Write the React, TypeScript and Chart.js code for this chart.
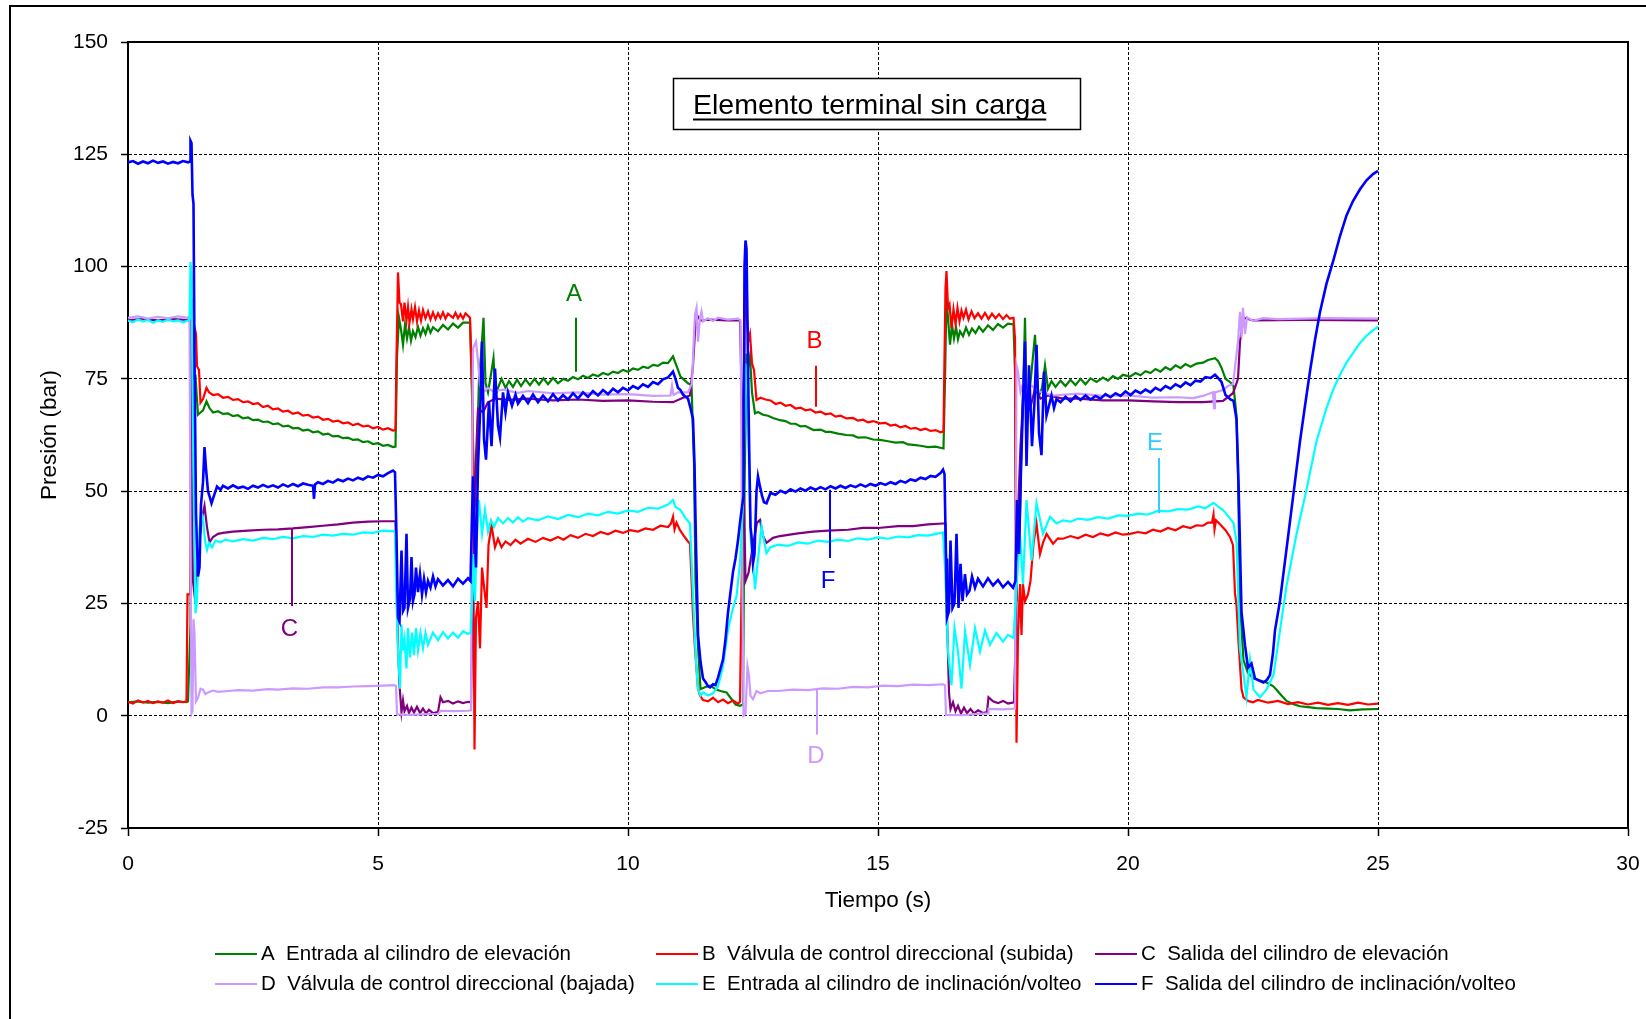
import { useEffect, useRef } from 'react';
import { Chart, registerables } from 'chart.js';

Chart.register(...registerables);

const FAMILIA = '"Liberation Sans", Arial, Helvetica, sans-serif';

// ---------- Datos: [tiempo (s), presión (bar)] ----------
const serieA: number[][] = [
  [0, 3.0], [0.2, 3.2], [0.4, 2.9], [0.6, 3.1], [0.8, 2.8], [1.0, 3.2], [1.17, 3.0], [1.2, 3.2], [1.25, 20], [1.27, 85], [1.3, 75], [1.35, 75.5], [1.4, 67], [1.45, 67.5], [1.5, 68], [1.57, 70], [1.63, 68.5], [1.7, 67.5], [1.8, 67.8], [1.9, 67.2], [2.0, 67.3], [2.1, 66.7], [2.2, 66.9], [2.3, 66.2], [2.4, 66.4], [2.5, 65.8], [2.6, 65.9], [2.7, 65.4], [2.8, 65.5], [2.9, 64.9], [3.0, 65.1], [3.1, 64.4], [3.2, 64.6], [3.3, 64.0], [3.4, 64.1], [3.5, 63.5], [3.6, 63.7], [3.7, 63.1], [3.8, 63.3], [3.9, 62.6], [4.0, 62.8], [4.1, 62.2], [4.2, 62.3], [4.3, 61.8], [4.4, 61.9], [4.5, 61.4], [4.6, 61.5], [4.7, 60.9], [4.8, 61.1], [4.9, 60.5], [5.0, 60.7], [5.1, 60.1], [5.2, 60.3], [5.3, 59.8], [5.35, 59.9],
  [5.38, 80], [5.42, 88.6], [5.46, 86], [5.5, 82.6], [5.54, 87], [5.58, 84], [5.62, 86.5], [5.66, 83.5], [5.7, 85.6], [5.75, 84.3], [5.8, 86.6], [5.85, 84.6], [5.9, 86.3], [5.95, 85], [6.0, 86.8], [6.05, 85.3], [6.1, 86.5], [6.2, 85.6], [6.3, 87], [6.4, 86], [6.5, 87.3], [6.6, 86.4], [6.7, 87.5], [6.84, 87.5],
  [6.88, 71.3], [6.93, 46.5], [6.97, 55], [7.02, 75], [7.06, 80], [7.11, 88.6], [7.15, 74], [7.2, 72], [7.26, 76], [7.31, 79.6], [7.35, 71.3], [7.4, 73], [7.47, 75], [7.55, 73], [7.62, 74.5], [7.7, 73.2], [7.78, 74.8], [7.86, 73.4], [7.95, 74.9], [8.04, 73.6], [8.13, 75.0], [8.22, 73.7], [8.31, 75.1], [8.4, 73.8], [8.5, 75.2], [8.6, 74.0], [8.71, 75.0], [8.8, 74.6], [8.9, 75.4], [9.0, 74.9], [9.1, 75.7], [9.2, 75.2], [9.3, 76.0], [9.4, 75.6], [9.5, 76.3], [9.6, 75.9], [9.7, 76.6], [9.8, 76.3], [9.9, 77.0], [10.0, 76.6], [10.1, 77.3], [10.2, 77.0], [10.3, 77.7], [10.4, 77.4], [10.5, 78.1], [10.6, 77.9], [10.7, 78.6], [10.8, 78.5], [10.9, 80.0], [10.95, 78.5], [11.0, 77], [11.05, 75.5], [11.1, 75], [11.2, 74], [11.27, 73.6],
  [11.32, 56.3], [11.35, 30], [11.4, 15.5], [11.45, 5.9], [11.55, 6.4], [11.65, 6.7], [11.75, 5.9], [11.85, 5.5], [11.97, 5.2], [12.05, 4], [12.15, 2.5], [12.24, 2.2], [12.3, 2.5],
  [12.33, 50], [12.37, 80.6], [12.41, 78], [12.44, 80], [12.48, 72], [12.54, 67.3], [12.6, 67.6], [12.7, 67.0], [12.8, 66.8], [12.9, 66.3], [13.04, 65.8], [13.15, 65.6], [13.25, 65.0], [13.35, 65.0], [13.45, 64.4], [13.55, 64.5], [13.71, 63.6], [13.85, 63.7], [13.95, 63.2], [14.05, 63.2], [14.2, 62.8], [14.37, 62.5], [14.5, 62.4], [14.6, 61.9], [14.75, 62.0], [14.9, 61.5], [15.04, 61.4], [15.2, 61.1], [15.35, 60.8], [15.5, 60.9], [15.6, 60.4], [15.71, 60.3], [15.85, 60.1], [16.0, 59.8], [16.15, 59.9], [16.31, 59.5],
  [16.34, 75], [16.37, 93], [16.4, 88.6], [16.44, 82.6], [16.48, 87], [16.52, 84], [16.56, 86.5], [16.6, 83.8], [16.64, 85.6], [16.7, 84.5], [16.76, 86.4], [16.82, 84.8], [16.88, 86.2], [16.95, 85.2], [17.02, 86.6], [17.1, 85.5], [17.2, 86.9], [17.3, 85.9], [17.4, 87.2], [17.5, 86.4], [17.6, 87.3], [17.71, 87.1],
  [17.74, 76.6], [17.77, 25.5], [17.8, 48], [17.83, 40], [17.87, 60], [17.91, 75], [17.94, 88.6], [17.97, 70.6], [18.03, 72], [18.1, 80], [18.14, 84.8], [18.2, 70.6], [18.28, 73], [18.34, 78], [18.4, 72.8], [18.47, 74.5], [18.55, 73.2], [18.65, 74.6], [18.75, 73.4], [18.85, 74.8], [18.95, 73.6], [19.05, 75.0], [19.15, 73.8], [19.25, 75.1], [19.37, 74.3], [19.5, 75.3], [19.6, 74.6], [19.7, 75.6], [19.8, 75.0], [19.9, 75.9], [20.04, 75.5], [20.15, 76.3], [20.25, 75.8], [20.35, 76.7], [20.45, 76.3], [20.55, 77.2], [20.65, 76.6], [20.75, 77.6], [20.85, 77.0], [20.95, 78.0], [21.05, 77.4], [21.15, 78.3], [21.25, 77.7], [21.37, 78.4], [21.5, 78.6], [21.6, 79.2], [21.74, 79.6], [21.8, 79.0], [21.87, 77.5], [21.95, 75], [22.05, 74.2], [22.11, 73.4],
  [22.17, 66.8], [22.2, 53.6], [22.24, 25.2], [22.31, 12.4], [22.4, 9.5], [22.51, 8.3], [22.6, 8.0], [22.77, 7.4], [22.9, 6.6], [22.97, 5.8], [23.07, 4.5], [23.17, 3.3], [23.3, 2.6], [23.44, 2.1], [23.6, 1.9], [23.77, 1.7], [24.0, 1.6], [24.2, 1.5], [24.44, 1.2], [24.7, 1.4], [25.0, 1.5],
];

const serieB: number[][] = [
  [0, 3.1], [0.1, 2.7], [0.2, 3.4], [0.3, 2.9], [0.4, 3.3], [0.5, 2.8], [0.6, 3.2], [0.7, 2.9], [0.8, 3.4], [0.9, 2.8], [1.0, 3.2], [1.1, 3.0], [1.17, 3.2], [1.19, 27], [1.25, 27], [1.27, 93], [1.29, 80], [1.32, 87], [1.36, 85], [1.38, 77.8], [1.42, 77], [1.45, 69.7], [1.5, 70.5], [1.57, 73], [1.62, 72], [1.7, 71.4], [1.8, 71.6], [1.9, 70.8], [2.0, 71.0], [2.1, 70.3], [2.2, 70.5], [2.3, 69.8], [2.4, 70.0], [2.5, 69.4], [2.6, 69.6], [2.7, 68.7], [2.8, 69.0], [2.9, 68.2], [3.0, 68.4], [3.1, 67.7], [3.2, 67.9], [3.3, 67.2], [3.4, 67.5], [3.5, 66.8], [3.6, 67.0], [3.7, 66.4], [3.8, 66.6], [3.9, 65.9], [4.0, 66.1], [4.1, 65.5], [4.2, 65.7], [4.3, 65.1], [4.4, 65.3], [4.5, 64.7], [4.6, 65.0], [4.7, 64.4], [4.8, 64.6], [4.9, 64.0], [5.0, 64.3], [5.1, 63.7], [5.2, 64.0], [5.3, 63.5], [5.35, 63.6],
  [5.37, 80], [5.4, 98.7], [5.43, 92], [5.46, 91.6], [5.5, 87.8], [5.53, 92], [5.57, 88], [5.6, 91], [5.63, 87.5], [5.67, 90.5], [5.7, 88.3], [5.74, 91], [5.78, 87.8], [5.82, 90.2], [5.86, 88], [5.9, 90.3], [5.95, 88.5], [6.0, 90], [6.05, 88.2], [6.1, 89.8], [6.15, 88.3], [6.2, 89.6], [6.25, 88.5], [6.3, 89.8], [6.35, 88.4], [6.4, 89.5], [6.5, 88.6], [6.55, 89.7], [6.6, 88.5], [6.65, 89.4], [6.7, 88.4], [6.75, 89.6], [6.84, 88.6],
  [6.89, 71], [6.91, 30], [6.93, -7.5], [6.96, 21.8], [7.0, 25.5], [7.04, 15], [7.08, 33], [7.13, 27.8], [7.17, 24], [7.21, 38], [7.27, 42.4], [7.34, 37.5], [7.4, 39.4], [7.47, 37.5], [7.55, 38.8], [7.65, 38], [7.75, 39.2], [7.85, 38.3], [8.0, 39.4], [8.15, 38.7], [8.3, 39.6], [8.45, 39], [8.6, 39.8], [8.71, 39.2], [8.85, 40.2], [9.0, 39.6], [9.15, 40.5], [9.3, 40.0], [9.45, 40.9], [9.6, 40.4], [9.75, 41.2], [9.9, 40.7], [10.04, 41.3], [10.2, 41.0], [10.35, 41.7], [10.5, 41.4], [10.65, 42.3], [10.8, 42.0], [10.86, 42.8], [10.9, 44.3], [10.93, 41.5], [10.97, 43], [11.04, 41.3], [11.12, 40], [11.2, 38.8], [11.24, 38.3],
  [11.3, 22.5], [11.34, 15], [11.4, 6], [11.44, 4.5], [11.5, 3.5], [11.6, 3.2], [11.7, 4.0], [11.8, 3.0], [11.9, 3.6], [12.0, 2.8], [12.1, 3.4], [12.2, 2.7], [12.24, 3.1],
  [12.27, 26.6], [12.3, 48.8], [12.34, 95.4], [12.37, 90], [12.41, 83.6], [12.44, 85], [12.48, 78.4], [12.52, 77], [12.57, 70.3], [12.65, 70.8], [12.75, 70.4], [12.85, 70.2], [12.95, 69.4], [13.05, 69.7], [13.15, 69.0], [13.25, 69.2], [13.35, 68.4], [13.45, 68.6], [13.55, 68.0], [13.65, 68.2], [13.75, 67.5], [13.85, 67.7], [13.95, 67.1], [14.05, 67.3], [14.15, 66.6], [14.25, 66.8], [14.37, 66.2], [14.5, 66.3], [14.6, 65.7], [14.7, 65.9], [14.8, 65.3], [14.9, 65.6], [15.04, 65.1], [15.15, 65.2], [15.25, 64.6], [15.35, 64.8], [15.45, 64.2], [15.55, 64.5], [15.65, 63.9], [15.75, 64.1], [15.85, 63.6], [15.95, 63.9], [16.05, 63.4], [16.15, 63.6], [16.25, 63.1], [16.31, 63.3],
  [16.33, 80], [16.35, 95.3], [16.37, 99], [16.4, 90.8], [16.43, 91.6], [16.47, 86.3], [16.51, 90.5], [16.55, 87.3], [16.59, 90.8], [16.63, 87.8], [16.67, 90.2], [16.71, 88.6], [16.76, 90.4], [16.81, 88.2], [16.87, 90], [16.93, 88.5], [17.0, 89.6], [17.07, 88.4], [17.14, 89.7], [17.21, 88.3], [17.28, 89.5], [17.35, 88.5], [17.42, 89.4], [17.5, 88.3], [17.57, 89.2], [17.64, 88.4], [17.71, 88.6],
  [17.74, 84], [17.77, -6], [17.8, 18], [17.84, 29.3], [17.87, 18], [17.9, 29.3], [17.94, 25.5], [18.0, 27], [18.05, 30], [18.11, 38.3], [18.17, 42.8], [18.24, 36], [18.3, 38.5], [18.37, 40.5], [18.5, 38.3], [18.6, 39.5], [18.7, 39.4], [18.85, 40.0], [19.0, 39.5], [19.15, 40.3], [19.3, 39.8], [19.45, 40.6], [19.6, 40.1], [19.75, 40.8], [19.9, 40.3], [20.04, 40.5], [20.2, 40.9], [20.35, 40.6], [20.5, 41.4], [20.65, 41.0], [20.8, 41.8], [20.95, 41.3], [21.1, 42.2], [21.25, 41.8], [21.37, 42.4], [21.5, 42.3], [21.6, 43.0], [21.68, 43.0], [21.71, 44.8], [21.73, 41.5], [21.76, 43.5], [21.85, 42.5], [21.95, 41.3], [22.04, 39.8], [22.1, 38],
  [22.14, 27.2], [22.17, 24.6], [22.21, 16.5], [22.27, 6], [22.31, 4.1], [22.4, 3.3], [22.5, 3.0], [22.6, 3.5], [22.8, 2.9], [23.0, 3.3], [23.2, 2.6], [23.4, 3.0], [23.6, 2.5], [23.8, 2.9], [24.0, 2.4], [24.2, 2.8], [24.4, 2.4], [24.6, 2.9], [24.8, 2.5], [25.0, 2.7],
];

const serieC: number[][] = [
  [0, 88.1], [0.3, 88.3], [0.6, 88.0], [0.9, 88.3], [1.2, 88.1], [1.24, 88], [1.27, 60], [1.3, 30], [1.35, 25], [1.42, 38], [1.48, 44], [1.53, 46.7], [1.58, 42], [1.63, 38.6], [1.7, 39.8], [1.8, 40.5], [1.9, 40.7], [2.1, 41.0], [2.4, 41.2], [2.7, 41.4], [3.0, 41.5], [3.3, 41.7], [3.6, 42.0], [3.9, 42.3], [4.2, 42.6], [4.5, 43.0], [4.8, 43.2], [5.1, 43.3], [5.35, 43.3],
  [5.38, 25], [5.4, 15.8], [5.43, 6.8], [5.47, 0.8], [5.5, 3.4], [5.53, 1.0], [5.58, 2.2], [5.62, 0.6], [5.67, 1.8], [5.72, 0.7], [5.78, 2.0], [5.84, 0.6], [5.9, 1.6], [5.96, 0.5], [6.02, 1.3], [6.1, 0.6], [6.2, 0.8], [6.25, 4.1], [6.3, 3.0], [6.4, 3.3], [6.5, 2.7], [6.6, 3.2], [6.7, 2.8], [6.8, 3.1], [6.86, 3.0],
  [6.9, 30], [6.95, 55], [7.0, 68.3], [7.1, 67.6], [7.2, 69.8], [7.35, 70.6], [7.6, 70.3], [8.0, 70.6], [8.5, 70.2], [9.0, 70.4], [9.5, 70.1], [10.0, 70.2], [10.5, 69.9], [10.9, 69.8], [11.1, 70.8], [11.24, 71.3], [11.3, 78], [11.34, 85.6], [11.37, 89.3], [11.45, 88.0], [11.6, 88.2], [12.0, 88.0], [12.24, 88],
  [12.3, 60], [12.35, 30], [12.41, 31.8], [12.5, 38], [12.58, 43], [12.64, 43.6], [12.7, 40], [12.77, 38.5], [12.9, 39.6], [13.04, 40], [13.4, 40.6], [13.7, 41], [14.0, 41.2], [14.4, 41.4], [14.7, 41.8], [15.0, 41.8], [15.4, 42.2], [15.7, 42.2], [16.0, 42.6], [16.3, 42.8], [16.35, 42.8],
  [16.38, 22], [16.42, 5.2], [16.45, 1.5], [16.5, 3.0], [16.55, 1.0], [16.6, 2.2], [16.66, 0.5], [16.72, 1.8], [16.78, 0.6], [16.85, 1.5], [16.92, 0.5], [17.0, 1.2], [17.1, 0.6], [17.18, 0.8], [17.21, 4.1], [17.3, 3.2], [17.4, 2.8], [17.5, 3.3], [17.6, 2.7], [17.72, 3.0],
  [17.76, 20], [17.8, 45], [17.85, 60], [17.91, 72], [18.04, 68.3], [18.14, 72.8], [18.25, 70.6], [18.4, 71.3], [18.7, 70.6], [19.0, 70.6], [19.5, 70.2], [20.0, 70.2], [20.5, 70.0], [21.0, 69.8], [21.5, 69.8], [21.9, 70.1], [22.1, 71.8], [22.2, 75], [22.24, 83.3], [22.31, 88.6], [22.5, 88.0], [23.5, 88.1], [25.0, 88.0],
];

const serieD: number[][] = [
  [0, 88.6], [0.2, 88.9], [0.4, 88.4], [0.6, 88.8], [0.8, 88.5], [1.0, 88.9], [1.2, 88.6], [1.23, 89], [1.25, 40], [1.27, 0.5], [1.29, 1], [1.31, 21.5], [1.33, 18], [1.36, 3.2], [1.4, 4], [1.45, 6], [1.5, 5.8], [1.55, 4.8], [1.6, 5.2], [1.7, 5.6], [1.8, 5.3], [2.0, 5.5], [2.2, 5.7], [2.5, 5.6], [2.8, 5.9], [3.0, 5.8], [3.3, 6.1], [3.6, 6.0], [3.9, 6.3], [4.2, 6.3], [4.5, 6.5], [4.8, 6.6], [5.1, 6.7], [5.32, 6.8], [5.36, 6.6],
  [5.38, 0.3], [5.6, 0.2], [5.9, 0.3], [6.2, 0.4], [6.25, 1.1], [6.5, 1.0], [6.8, 1.1], [6.86, 1.2],
  [6.88, 50], [6.9, 81.8], [6.96, 83.3], [7.0, 79], [7.04, 73.6], [7.1, 72], [7.2, 73], [7.3, 72.2], [7.5, 72.6], [7.8, 71.9], [8.0, 72.3], [8.5, 71.8], [9.0, 72.0], [9.5, 71.5], [10.0, 71.6], [10.5, 71.2], [10.85, 71.3], [10.88, 73.5], [10.91, 71.4], [11.0, 72], [11.2, 72], [11.28, 74], [11.32, 85], [11.34, 89.3], [11.37, 90.8], [11.4, 83.3], [11.44, 88.6], [11.47, 90], [11.5, 87.8], [11.6, 88.5], [11.7, 87.9], [11.8, 88.6], [12.0, 88.2], [12.2, 88.4], [12.25, 88],
  [12.28, 40], [12.31, 0], [12.35, 0.5], [12.39, 11], [12.42, 9], [12.45, 4.4], [12.5, 3.7], [12.57, 5.5], [12.65, 5], [12.8, 5.5], [13.0, 5.5], [13.3, 5.8], [13.6, 5.7], [13.9, 6.1], [14.2, 6.0], [14.5, 6.4], [14.8, 6.3], [15.1, 6.7], [15.4, 6.6], [15.7, 6.9], [16.0, 6.8], [16.3, 7.0], [16.34, 6.8],
  [16.36, 0.2], [16.7, 0.1], [17.0, 0.4], [17.2, 0.5], [17.21, 1.5], [17.5, 1.4], [17.74, 1.6],
  [17.77, 78], [17.8, 76.6], [17.85, 72], [17.9, 74], [17.97, 72], [18.06, 73.6], [18.2, 72.3], [18.5, 71.3], [19.0, 71.7], [19.5, 71.2], [20.0, 71.3], [20.5, 70.8], [21.0, 70.9], [21.3, 70.7], [21.5, 71.2], [21.7, 72], [21.72, 68.5], [21.74, 72], [21.9, 72.5], [22.0, 73.4], [22.1, 73.8], [22.2, 83.3], [22.24, 89.9], [22.27, 84.2], [22.3, 90.8], [22.34, 85], [22.38, 88.7], [22.5, 87.9], [22.7, 88.5], [23.0, 88.3], [24.0, 88.5], [25.0, 88.4],
];

const serieE: number[][] = [
  [0, 88.0], [0.1, 87.6], [0.2, 88.2], [0.3, 87.8], [0.4, 88.1], [0.5, 87.5], [0.6, 88.0], [0.7, 87.7], [0.8, 88.2], [0.9, 87.8], [1.0, 88.0], [1.1, 87.6], [1.2, 88.0], [1.23, 88.3], [1.25, 101], [1.27, 98], [1.29, 74], [1.32, 45], [1.35, 22.8], [1.38, 26], [1.42, 40], [1.46, 45.4], [1.5, 44], [1.54, 39], [1.58, 36.9], [1.62, 38.5], [1.68, 37.5], [1.75, 39], [1.85, 38.6], [1.95, 39.2], [2.1, 38.8], [2.3, 39.3], [2.5, 39.0], [2.7, 39.6], [2.9, 39.3], [3.1, 39.8], [3.3, 39.5], [3.5, 40.0], [3.7, 39.8], [3.9, 40.3], [4.1, 40.1], [4.3, 40.5], [4.5, 40.3], [4.7, 40.8], [4.9, 40.7], [5.1, 41.2], [5.3, 41.1], [5.34, 41.0],
  [5.37, 25.5], [5.4, 14.3], [5.44, 6], [5.47, 20.3], [5.5, 14.5], [5.53, 17], [5.57, 10.5], [5.6, 19.5], [5.64, 13], [5.68, 18.5], [5.72, 13.5], [5.76, 19.5], [5.8, 14.5], [5.85, 18.5], [5.9, 15], [5.95, 18.5], [6.0, 15.8], [6.1, 18.5], [6.2, 16.8], [6.3, 18.6], [6.4, 17.2], [6.5, 18.5], [6.6, 17.4], [6.7, 18.8], [6.8, 18.2], [6.85, 18.5],
  [6.88, 25], [6.91, 36], [6.94, 25.5], [6.97, 38.3], [7.02, 48], [7.08, 40.5], [7.14, 45.8], [7.2, 41], [7.26, 43.5], [7.32, 42], [7.4, 44], [7.5, 42.8], [7.6, 44], [7.7, 43], [7.8, 44.2], [7.9, 43.2], [8.0, 44.0], [8.2, 43.5], [8.4, 44.4], [8.6, 43.8], [8.8, 44.7], [9.0, 44.2], [9.2, 45.0], [9.4, 44.6], [9.6, 45.4], [9.8, 45.0], [10.0, 45.7], [10.2, 45.4], [10.4, 46.3], [10.6, 46.1], [10.8, 47.0], [10.9, 48.0], [10.95, 46.5], [11.05, 45.8], [11.15, 44], [11.24, 42.8],
  [11.3, 27], [11.36, 12], [11.4, 5.9], [11.45, 4.5], [11.5, 5.2], [11.6, 4.5], [11.7, 5.0], [11.8, 6.5], [11.9, 11], [12.0, 19.2], [12.1, 24], [12.17, 26.6], [12.24, 34], [12.3, 47.3], [12.35, 78.4], [12.38, 75], [12.41, 60.7], [12.45, 40], [12.5, 34], [12.54, 28.1], [12.6, 34.8], [12.67, 42.2], [12.72, 39], [12.77, 36.2], [12.85, 37.5], [13.0, 38.1], [13.2, 37.8], [13.4, 38.6], [13.6, 38.3], [13.8, 39.0], [14.0, 38.7], [14.2, 39.2], [14.4, 38.9], [14.6, 39.5], [14.8, 39.2], [15.0, 39.7], [15.2, 39.4], [15.4, 39.9], [15.6, 39.7], [15.8, 40.2], [16.0, 40.1], [16.2, 40.6], [16.3, 40.8],
  [16.34, 33], [16.4, 14.3], [16.47, 6.8], [16.53, 19.5], [16.6, 14.3], [16.67, 6], [16.74, 18.8], [16.84, 11.3], [16.94, 19.5], [17.04, 14.3], [17.14, 19], [17.24, 15.8], [17.37, 18.4], [17.5, 16.5], [17.6, 18], [17.71, 17.3],
  [17.77, 28.5], [17.84, 40.5], [17.9, 29.3], [17.97, 48], [18.07, 34.5], [18.17, 47.3], [18.3, 40.5], [18.44, 44.3], [18.57, 42.8], [18.7, 43.5], [18.85, 43.2], [19.0, 43.9], [19.2, 43.6], [19.4, 44.2], [19.6, 43.9], [19.8, 44.6], [20.0, 44.5], [20.2, 45.0], [20.4, 44.8], [20.6, 45.6], [20.8, 45.5], [21.0, 46.0], [21.2, 45.9], [21.4, 46.6], [21.55, 46.2], [21.71, 47.4], [21.8, 46.6], [21.9, 45.8], [22.0, 44.5], [22.11, 42.9],
  [22.17, 38.8], [22.24, 14.9], [22.31, 9.1], [22.37, 4.1], [22.44, 12.4], [22.51, 5.8], [22.64, 4.1], [22.77, 5.8], [22.91, 9.1], [23.04, 19], [23.17, 28.9], [23.37, 40.4], [23.57, 50.3], [23.77, 61.1], [23.97, 68.5], [24.1, 72.5], [24.24, 75.9], [24.37, 78.6], [24.51, 80.9], [24.64, 83], [24.77, 84.6], [24.9, 85.8], [25.0, 86.6],
];

const serieF: number[][] = [
  [0, 123.2], [0.1, 123.5], [0.2, 122.9], [0.3, 123.4], [0.4, 123.0], [0.5, 123.6], [0.6, 123.1], [0.7, 123.4], [0.8, 122.9], [0.9, 123.3], [1.0, 123.0], [1.1, 123.5], [1.2, 123.2], [1.24, 123.4], [1.25, 128.0], [1.27, 127.5], [1.29, 116], [1.31, 114], [1.33, 80], [1.36, 45], [1.4, 31], [1.43, 33], [1.46, 47], [1.5, 52], [1.53, 59.8], [1.56, 55], [1.6, 50], [1.64, 48.5], [1.67, 47.3], [1.72, 49], [1.78, 51], [1.85, 50.3], [1.9, 51.2], [2.0, 50.6], [2.1, 51.3], [2.2, 50.7], [2.3, 51.0], [2.4, 50.5], [2.5, 51.2], [2.6, 50.8], [2.7, 51.4], [2.8, 50.9], [2.9, 51.3], [3.0, 50.8], [3.1, 51.5], [3.2, 51.0], [3.3, 51.6], [3.4, 51.1], [3.5, 51.7], [3.6, 51.4], [3.7, 51.2], [3.72, 48.3], [3.74, 51.5], [3.8, 52.0], [3.9, 51.6], [4.0, 52.3], [4.1, 51.9], [4.2, 52.6], [4.3, 52.2], [4.4, 52.8], [4.5, 52.4], [4.6, 53.0], [4.7, 52.6], [4.8, 53.3], [4.9, 53.0], [5.0, 53.6], [5.1, 53.3], [5.2, 54.0], [5.3, 54.6], [5.34, 54.2],
  [5.37, 40], [5.4, 21.8], [5.43, 21], [5.47, 36.8], [5.5, 23.3], [5.53, 24], [5.57, 40.5], [5.6, 24], [5.64, 26], [5.67, 35.3], [5.7, 25.5], [5.73, 27], [5.76, 33], [5.8, 27.5], [5.84, 31.5], [5.88, 27], [5.92, 30.5], [5.96, 27.5], [6.0, 30], [6.05, 28.5], [6.1, 31], [6.15, 28.8], [6.2, 30.4], [6.3, 29], [6.4, 30.2], [6.5, 28.8], [6.6, 30.5], [6.7, 29.4], [6.8, 30.6], [6.85, 30],
  [6.88, 44], [6.9, 53.3], [6.93, 42], [6.96, 33], [7.0, 55.6], [7.05, 70], [7.08, 83.3], [7.12, 61.6], [7.16, 57], [7.22, 70], [7.27, 60], [7.34, 77.3], [7.4, 64.6], [7.44, 62], [7.5, 72], [7.55, 67.6], [7.6, 72], [7.68, 69], [7.75, 71.5], [7.8, 69.5], [7.9, 71.2], [8.0, 69.6], [8.1, 71.5], [8.2, 69.8], [8.3, 71.3], [8.4, 70], [8.5, 71.6], [8.6, 70.2], [8.7, 71.4], [8.8, 70.4], [8.9, 71.8], [9.0, 70.6], [9.1, 72.0], [9.2, 71.0], [9.3, 72.3], [9.4, 71.3], [9.5, 72.5], [9.6, 71.6], [9.7, 72.8], [9.8, 72.0], [9.9, 73.0], [10.0, 72.4], [10.1, 73.4], [10.2, 72.8], [10.3, 73.8], [10.4, 73.2], [10.5, 74.3], [10.6, 73.8], [10.7, 74.9], [10.8, 75.3], [10.9, 76.6], [10.95, 75], [11.0, 73], [11.05, 72.5], [11.1, 71.5], [11.15, 71], [11.2, 70.6], [11.25, 68.5], [11.3, 66],
  [11.33, 56], [11.36, 38], [11.4, 18], [11.45, 12], [11.5, 8.3], [11.55, 7.5], [11.6, 6.6], [11.64, 6.3], [11.7, 7], [11.75, 6.8], [11.8, 8.5], [11.85, 10.5], [11.9, 12.5], [11.95, 17], [12.0, 23], [12.04, 26.6], [12.1, 32], [12.15, 35], [12.2, 39], [12.24, 43], [12.28, 46.5], [12.31, 48.8],
  [12.33, 100], [12.35, 105.8], [12.37, 104], [12.39, 87.3], [12.42, 62], [12.45, 42], [12.47, 40], [12.5, 34], [12.53, 36], [12.57, 50], [12.6, 53.3], [12.64, 51], [12.68, 49], [12.72, 47.5], [12.77, 47.3], [12.85, 49.6], [12.95, 49.2], [13.05, 50.1], [13.15, 49.6], [13.25, 50.4], [13.35, 49.9], [13.45, 50.6], [13.55, 50.1], [13.65, 50.8], [13.75, 50.3], [13.85, 50.9], [13.95, 50.4], [14.05, 51.1], [14.15, 50.6], [14.25, 51.2], [14.35, 50.7], [14.45, 51.3], [14.55, 50.9], [14.65, 51.5], [14.75, 51.0], [14.85, 51.6], [14.95, 51.2], [15.05, 51.8], [15.15, 51.4], [15.25, 52.0], [15.35, 51.6], [15.45, 52.3], [15.55, 51.9], [15.65, 52.6], [15.75, 52.3], [15.85, 53.0], [15.95, 52.7], [16.05, 53.4], [16.15, 53.2], [16.25, 54.0], [16.3, 54.8], [16.33, 53.8],
  [16.36, 35], [16.38, 21.8], [16.42, 23.3], [16.45, 39], [16.49, 24], [16.53, 25], [16.57, 40.5], [16.61, 24], [16.65, 33.8], [16.69, 25.5], [16.74, 31.5], [16.78, 27], [16.83, 27.8], [16.88, 31], [16.94, 28.5], [17.0, 30.5], [17.1, 28.8], [17.2, 30.6], [17.3, 29], [17.4, 30.2], [17.5, 28.6], [17.6, 29.8], [17.7, 28.5], [17.75, 30],
  [17.78, 48], [17.82, 36], [17.86, 55], [17.9, 70], [17.94, 83.3], [17.97, 55.6], [18.02, 78], [18.08, 60], [18.13, 70], [18.17, 82.6], [18.22, 63], [18.27, 58], [18.32, 76.6], [18.37, 66.8], [18.42, 69], [18.47, 71.3], [18.52, 68.5], [18.57, 70.5], [18.65, 69.8], [18.75, 71.0], [18.85, 70.0], [18.95, 71.2], [19.05, 70.3], [19.15, 71.3], [19.25, 70.4], [19.35, 71.2], [19.45, 70.6], [19.55, 71.6], [19.65, 70.9], [19.75, 71.8], [19.85, 71.2], [19.95, 72.2], [20.05, 71.4], [20.15, 72.4], [20.25, 71.8], [20.35, 72.6], [20.45, 72.0], [20.55, 73.0], [20.65, 72.4], [20.75, 73.4], [20.85, 72.8], [20.95, 73.8], [21.05, 73.2], [21.15, 74.2], [21.25, 73.6], [21.35, 74.6], [21.45, 74.4], [21.55, 75.4], [21.65, 75.2], [21.74, 75.9], [21.8, 75.2], [21.87, 74.3], [21.95, 71.4], [22.05, 70.4], [22.11, 70.1],
  [22.17, 66], [22.21, 52], [22.27, 23.1], [22.34, 15.7], [22.4, 10.7], [22.47, 11.6], [22.54, 8.3], [22.62, 7.8], [22.71, 7.4], [22.78, 8], [22.84, 9.1], [22.9, 14], [22.94, 19], [23.04, 25.6], [23.17, 37.1], [23.31, 49.5], [23.44, 61.1], [23.54, 69], [23.64, 76.7], [23.74, 83.7], [23.84, 89.9], [23.97, 96.2], [24.11, 101.5], [24.24, 106.8], [24.37, 111.4], [24.5, 114.6], [24.64, 117.2], [24.77, 119.2], [24.9, 120.6], [25.0, 121.3],
];

const nombres = [
  'A  Entrada al cilindro de elevación',
  'B  Válvula de control direccional (subida)',
  'C  Salida del cilindro de elevación',
  'D  Válvula de control direccional (bajada)',
  'E  Entrada al cilindro de inclinación/volteo',
  'F  Salida del cilindro de inclinación/volteo',
];
const colores = ['#008000', '#FF0000', '#800080', '#CC99FF', '#00FFFF', '#0000FF'];
const series = [serieA, serieB, serieC, serieD, serieE, serieF];

const xTicks = { min: 0, max: 30, paso: 5 };
const yTicks = { min: -25, max: 150, paso: 25 };

const titulo = 'Elemento terminal sin carga';
const tituloX = 'Tiempo (s)';
const tituloY = 'Presión (bar)';

// Etiquetas de las curvas (en unidades de datos)
const letras = ['A', 'B', 'C', 'D', 'E', 'F'];
const letraColor = ['#008000', '#FF0000', '#800080', '#CC99FF', '#33CCFF', '#0000FF'];
const letraT = [8.92, 13.73, 3.23, 13.76, 20.54, 14.0];
const letraV = [93.8, 83.3, 19.3, -9.1, 60.7, 29.9];
const guiaT = [8.95, 13.76, 3.27, 13.78, 20.61, 14.04];
const guiaDesde = [88.6, 77.9, 41.8, 5.8, 57.4, 50.3];
const guiaHasta = [76.6, 68.8, 24.4, -4.2, 45.1, 35.1];

const decoracion = {
  id: 'decoracion',
  beforeDatasetsDraw(chart: any) {
    const { ctx, chartArea: a } = chart;
    ctx.save();
    ctx.strokeStyle = '#000';
    ctx.lineWidth = 2;
    ctx.strokeRect(a.left, a.top, a.right - a.left, a.bottom - a.top);
    ctx.restore();
  },
  afterDatasetsDraw(chart: any) {
    const { ctx } = chart;
    const sx = chart.scales.x;
    const sy = chart.scales.y;
    ctx.save();
    ctx.font = `24px ${FAMILIA}`;
    ctx.textAlign = 'center';
    ctx.textBaseline = 'middle';
    for (let i = 0; i < letras.length; i++) {
      ctx.strokeStyle = letraColor[i];
      ctx.fillStyle = letraColor[i];
      ctx.lineWidth = 2;
      const gx = Math.round(sx.getPixelForValue(guiaT[i]));
      ctx.beginPath();
      ctx.moveTo(gx, sy.getPixelForValue(guiaDesde[i]));
      ctx.lineTo(gx, sy.getPixelForValue(guiaHasta[i]));
      ctx.stroke();
      ctx.fillText(letras[i], sx.getPixelForValue(letraT[i]), sy.getPixelForValue(letraV[i]));
    }
    ctx.restore();
  },
  afterDraw(chart: any) {
    const { ctx } = chart;
    ctx.save();
    // Cuadro del título
    ctx.fillStyle = '#fff';
    ctx.fillRect(673, 78, 408, 52);
    ctx.strokeStyle = '#000';
    ctx.lineWidth = 1.5;
    ctx.strokeRect(673.5, 78.5, 407, 51);
    ctx.fillStyle = '#000';
    ctx.font = `28.5px ${FAMILIA}`;
    ctx.textAlign = 'left';
    ctx.textBaseline = 'alphabetic';
    ctx.fillText(titulo, 693, 114);
    const w = ctx.measureText(titulo).width;
    ctx.fillRect(693, 118.5, w, 2);

    // Leyenda
    const colX = [215, 656, 1095];
    const filaY = [954, 984];
    ctx.font = `20.5px ${FAMILIA}`;
    ctx.textBaseline = 'middle';
    for (let i = 0; i < nombres.length; i++) {
      const x0 = colX[i % 3];
      const y0 = filaY[Math.floor(i / 3)];
      ctx.strokeStyle = colores[i];
      ctx.lineWidth = 2;
      ctx.beginPath();
      ctx.moveTo(x0, y0);
      ctx.lineTo(x0 + 42, y0);
      ctx.stroke();
      ctx.fillStyle = '#000';
      ctx.fillText(nombres[i], x0 + 46, y0);
    }

    // Marco exterior
    ctx.strokeStyle = '#000';
    ctx.lineWidth = 2;
    ctx.strokeRect(10, 6, 1720, 1120);
    ctx.restore();
  },
};

export default function App() {
  const ref = useRef<HTMLCanvasElement | null>(null);

  useEffect(() => {
    if (!ref.current) return;
    const orden = [5, 4, 3, 2, 1, 0];
    const chart = new Chart(ref.current, {
      type: 'line',
      data: {
        datasets: series.map((s, i) => ({
          label: nombres[i],
          data: s.map((p) => ({ x: p[0], y: p[1] })),
          borderColor: colores[i],
          backgroundColor: colores[i],
          borderWidth: i === 5 ? 2.6 : 2.2,
          pointRadius: 0,
          tension: 0,
          fill: false,
          order: orden[i],
        })),
      },
      options: {
        animation: false,
        responsive: false,
        devicePixelRatio: 1,
        events: [],
        layout: { padding: { top: 42, right: 18, bottom: 0, left: 0 } },
        plugins: { legend: { display: false }, tooltip: { enabled: false }, title: { display: false } },
        scales: {
          x: {
            type: 'linear',
            min: xTicks.min,
            max: xTicks.max,
            ticks: { stepSize: xTicks.paso, color: '#000', font: { family: FAMILIA, size: 21 }, padding: 16, maxRotation: 0 },
            grid: { color: '#000', lineWidth: 1, tickLength: 8, tickColor: '#000', tickWidth: 1.5, tickBorderDash: [] },
            border: { display: true, color: '#000', width: 2, dash: [3, 2] },
            title: { display: true, text: tituloX, color: '#000', font: { family: FAMILIA, size: 22.5 }, padding: { top: 0, bottom: 105 } },
            afterFit: (s: any) => { s.height = 191; s.paddingLeft = 0; s.paddingRight = 0; },
          },
          y: {
            type: 'linear',
            min: yTicks.min,
            max: yTicks.max,
            ticks: { stepSize: yTicks.paso, color: '#000', font: { family: FAMILIA, size: 21 }, padding: 13 },
            grid: { color: '#000', lineWidth: 1, tickLength: 7, tickColor: '#000', tickWidth: 1.5, tickBorderDash: [] },
            border: { display: true, color: '#000', width: 2, dash: [3, 2] },
            title: { display: true, text: tituloY, color: '#000', font: { family: FAMILIA, size: 22.5 }, padding: { top: 36, bottom: 0 } },
            afterFit: (s: any) => { s.width = 128; s.paddingTop = 0; s.paddingBottom = 0; },
          },
        },
      },
      plugins: [decoracion],
    } as any);
    return () => chart.destroy();
  }, []);

  return (
    <canvas
      ref={ref}
      width={1646}
      height={1019}
      style={{ position: 'fixed', left: 0, top: 0, width: 1646, height: 1019, background: '#fff' }}
    />
  );
}
